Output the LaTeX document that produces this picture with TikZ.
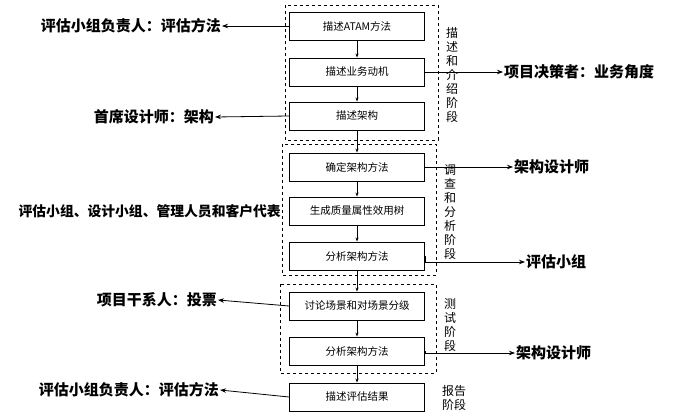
\documentclass[tikz,border=0pt]{standalone}
\usepackage{fontspec}
\setmainfont{Noto Sans CJK SC}
\usetikzlibrary{arrows.meta}
\begin{document}
\begin{tikzpicture}[x=1pt,y=-1pt,
  stepbox/.style={draw,line width=0.9pt,minimum width=135pt,minimum height=28pt,font=\fontsize{10.5}{12}\selectfont,inner sep=0pt},
  grp/.style={draw,dashed,line width=0.9pt},
  lab/.style={font=\fontsize{15}{17}\selectfont\bfseries,inner sep=1pt},
  stg/.style={font=\fontsize{12}{14}\selectfont,align=center,inner sep=0pt},
  arr/.style={-{Stealth[length=6pt]},line width=0.8pt}]
\useasboundingbox (0,0) rectangle (689,420);
\node[stepbox] (b1) at (357,26) {描述ATAM方法};
\node[stepbox] (b2) at (357,72) {描述业务动机};
\node[stepbox] (b3) at (357,116) {描述架构};
\node[stepbox] (b4) at (357,167) {确定架构方法};
\node[stepbox] (b5) at (357,211) {生成质量属性效用树};
\node[stepbox] (b6) at (357,256) {分析架构方法};
\node[stepbox] (b7) at (357,306) {讨论场景和对场景分级};
\node[stepbox] (b8) at (357,351) {分析架构方法};
\node[stepbox] (b9) at (357,397) {描述评估结果};
\foreach \a/\b in {b1/b2,b2/b3,b3/b4,b4/b5,b5/b6,b6/b7,b7/b8,b8/b9}
  \draw[arr,-{Stealth[length=4pt]}] (\a) -- (\b);
\draw[grp] (285,5) rectangle (438,140);
\draw[grp] (282,144) rectangle (436,275);
\draw[grp] (280,284) rectangle (436,373);
\node[stg] (s1) at (452,75) {描\\述\\和\\介\\绍\\阶\\段};
\node[stg] (s2) at (450,212) {调\\查\\和\\分\\析\\阶\\段};
\node[stg] (s3) at (450,325) {测\\试\\阶\\段};
\node[stg] (s4) at (454,398) {报告\\阶段};
\node[lab,anchor=east] (l1) at (222,26) {评估小组负责人：评估方法};
\node[lab,anchor=east] (l2) at (215,117) {首席设计师：架构};
\node[lab,anchor=east,font=\fontsize{13.8}{15}\selectfont\bfseries] (l3) at (282,211) {评估小组、设计小组、管理人员和客户代表};
\node[lab,anchor=east] (l4) at (218,300) {项目干系人：投票};
\node[lab,anchor=east] (l5) at (220,390) {评估小组负责人：评估方法};
\node[lab,anchor=west] (r1) at (503,72) {项目决策者：业务角度};
\node[lab,anchor=west] (r2) at (513,167) {架构设计师};
\node[lab,anchor=west] (r3) at (525,262) {评估小组};
\node[lab,anchor=west] (r4) at (515,353) {架构设计师};
\draw[arr] (b1.west) -- (l1.east);
\draw[arr] (b3.west) -- (l2.east);
\draw[arr] (b7.west) -- (l4.east);
\draw[arr] (b9.west) -- (l5.east);
\draw[arr] (b2.east) -- (r1.west);
\draw[arr] (b4.east) -- (r2.west);
\draw[arr] (b6.east) |- (r3.west);
\draw[arr] (b8.east) |- (r4.west);
\end{tikzpicture}
\end{document}
